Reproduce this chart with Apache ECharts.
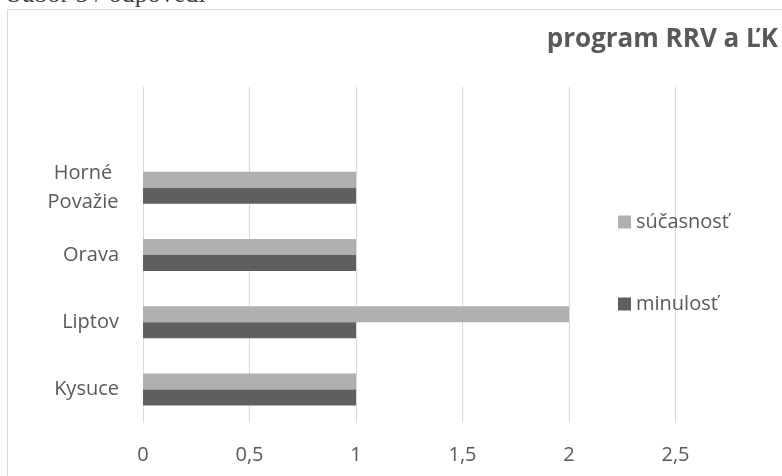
<!DOCTYPE html>
<html>
<head>
<meta charset="utf-8">
<script src="https://cdn.jsdelivr.net/npm/echarts@6/dist/echarts.min.js"></script>
<style>
  html, body { margin: 0; padding: 0; background: #fff; }
  #chart { width: 782px; height: 476px; }
</style>
</head>
<body>
<div id="chart"></div>
<script>
// Regions, bottom to top; the last slot is an empty row above the bars
const regions = ['Kysuce', 'Liptov', 'Orava', 'Horné\nPovažie', ''];
const sucasnost = [1, 2, 1, 1, null];
const minulost = [1, 1, 1, 1, null];
const xTicks = { min: 0, max: 3, interval: 0.5 };
const seriesNames = ['súčasnosť', 'minulosť'];

const FONT = '"Open Sans", sans-serif';
const TEXT = '#595959';

const chart = echarts.init(document.getElementById('chart'));
chart.setOption({
  backgroundColor: '#ffffff',
  animation: false,
  title: {
    text: 'program RRV a ĽK',
    right: 4,
    top: 27,
    padding: 0,
    textStyle: { fontFamily: FONT, fontWeight: 'bold', fontSize: 26, color: TEXT }
  },
  legend: {
    orient: 'vertical',
    left: 613,
    top: 207,
    itemWidth: 13,
    itemHeight: 13,
    itemGap: 62,
    icon: 'rect',
    data: seriesNames,
    textStyle: { fontFamily: FONT, fontSize: 20, color: TEXT }
  },
  grid: { left: 143, right: 0, top: 87, bottom: 53 },
  xAxis: {
    type: 'value',
    min: xTicks.min,
    max: xTicks.max,
    interval: xTicks.interval,
    axisLine: { show: false },
    axisTick: { show: false },
    splitLine: { lineStyle: { color: '#d9d9d9', width: 1 } },
    axisLabel: {
      margin: 22,
      fontFamily: FONT,
      fontSize: 20,
      color: TEXT,
      showMaxLabel: false,
      formatter: v => String(v).replace('.', ',')
    }
  },
  yAxis: {
    type: 'category',
    data: regions,
    axisLine: { show: false },
    axisTick: { show: false },
    splitLine: { show: false },
    axisLabel: {
      margin: 24,
      fontFamily: FONT,
      fontSize: 20,
      color: TEXT,
      lineHeight: 29,
      formatter: v => v.indexOf('\n') >= 0
        ? v.split('\n').map(s => '{c|' + s + '}').join('\n')
        : v,
      rich: {
        c: { width: 72, align: 'center', fontFamily: FONT, fontSize: 20, color: TEXT, lineHeight: 29 }
      }
    }
  },
  series: [
    {
      name: seriesNames[0],
      type: 'bar',
      data: sucasnost,
      barWidth: 16,
      barGap: '0%',
      itemStyle: { color: '#b0b0b0' }
    },
    {
      name: seriesNames[1],
      type: 'bar',
      data: minulost,
      barWidth: 16,
      barGap: '0%',
      itemStyle: { color: '#5f5f5f' }
    }
  ],
  graphic: [
    {
      type: 'rect',
      silent: true,
      shape: { x: 7.5, y: 9.5, width: 820, height: 520 },
      style: { fill: 'none', stroke: '#d9d9d9', lineWidth: 1 }
    },
    {
      type: 'text',
      silent: true,
      x: 7,
      y: 8,
      style: {
        text: 'Súbor 5 / odpovedí',
        font: '26px "Liberation Serif", serif',
        fill: '#404040',
        verticalAlign: 'bottom'
      }
    }
  ]
});
</script>
</body>
</html>
